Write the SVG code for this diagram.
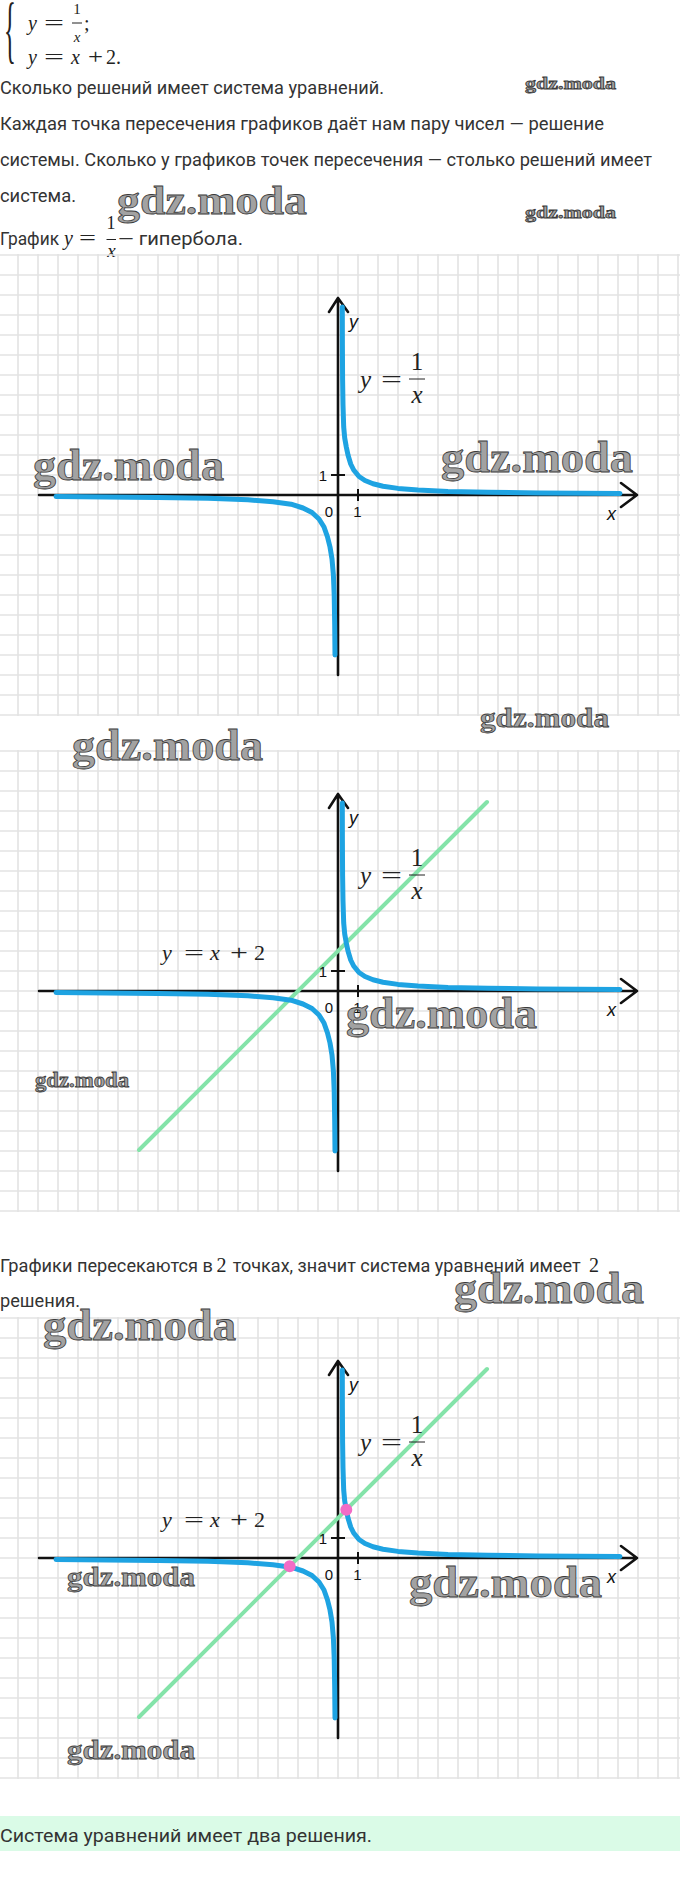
<svg xmlns="http://www.w3.org/2000/svg" width="680" height="1886" viewBox="0 0 680 1886">
<defs>
<pattern id="grid" x="-10" y="-10" width="20" height="20" patternUnits="userSpaceOnUse">
<path d="M0 10H20M10 0V20" stroke="#e3e3e3" stroke-width="1.6" fill="none"/>
</pattern>
<path id="hyp" d="M4.3 -188 L4.4 -150 L4.6 -115 L5 -90 L5.7 -68 L6.7 -57 L8.3 -48 L10 -40 L12.7 -31 L15.7 -25 L21 -18.5 L27 -14.5 L35 -11.2 L45 -8.8 L60 -6.6 L80 -5 L110 -3.6 L150 -2.7 L200 -2 L282 -1.4 M-3 160 L-3.3 130 L-3.8 100 L-4.6 80 L-6 64 L-8 52 L-10.5 42 L-14 32 L-19 24 L-26 17.5 L-35 13 L-47 9.2 L-65 6.7 L-90 4.8 L-130 3.3 L-180 2.4 L-282 1.5"/>
</defs>
<style>
.t{font-family:Roboto,"Liberation Sans",sans-serif;font-size:17.5px;fill:#333}
.m{font-family:"Liberation Serif",serif;fill:#222}
.mi{font-style:italic}
.wm{font-family:"Liberation Serif",serif;font-weight:bold;fill:#a2a2a2;stroke:#3c3c3c;stroke-width:0.8}
.ax{stroke:#111;stroke-width:2.6;fill:none;stroke-linecap:round;stroke-linejoin:round}
.tk{stroke:#111;stroke-width:2;fill:none}
.hyp{stroke:#1ea3e2;stroke-width:5;fill:none;stroke-linecap:round;stroke-linejoin:round}
.lin{stroke:#84e3a9;stroke-width:4;stroke-linecap:round}
.lbl{font-family:"Liberation Sans",Arial,sans-serif;fill:#111}
.bar{stroke:#222;stroke-width:1}
.dot{fill:#f26cc6}
</style>
<rect x="0" y="0" width="680" height="1886" fill="#fff"/>

<g id="system">
<text class="m" font-size="75" transform="translate(4,54) scale(0.33,1)">{</text>
<text class="m mi" x="28" y="30" font-size="20">y</text>
<text class="m" x="44" y="30" font-size="20" textLength="20" lengthAdjust="spacingAndGlyphs">=</text>
<text class="m" x="77" y="14" font-size="15" text-anchor="middle">1</text>
<line class="bar" x1="72" y1="23" x2="82" y2="23"/>
<text class="m mi" x="77" y="42" font-size="15" text-anchor="middle">x</text>
<text class="m" x="84" y="30" font-size="20">;</text>
<text class="m mi" x="28" y="64" font-size="20">y</text>
<text class="m" x="44" y="64" font-size="20" textLength="20" lengthAdjust="spacingAndGlyphs">=</text>
<text class="m mi" x="71" y="64" font-size="20">x</text>
<text class="m" x="88" y="64" font-size="20" textLength="15" lengthAdjust="spacingAndGlyphs">+</text>
<text class="m" x="106" y="64" font-size="20">2.</text>
</g>

<g id="intro">
<text class="t" x="0" y="94" textLength="384" lengthAdjust="spacingAndGlyphs">Сколько решений имеет система уравнений.</text>
<text class="t" x="0" y="130" textLength="604" lengthAdjust="spacingAndGlyphs">Каждая точка пересечения графиков даёт нам пару чисел — решение</text>
<text class="t" x="0" y="166" textLength="652" lengthAdjust="spacingAndGlyphs">системы. Сколько у графиков точек пересечения — столько решений имеет</text>
<text class="t" x="0" y="202" textLength="76" lengthAdjust="spacingAndGlyphs">система.</text>
<text class="t" x="0" y="245" textLength="59" lengthAdjust="spacingAndGlyphs">График</text>
<text class="m mi" x="64" y="245" font-size="20">y</text>
<text class="m" x="79" y="245" font-size="20" textLength="17" lengthAdjust="spacingAndGlyphs">=</text>
<text class="m" x="111" y="229" font-size="18" text-anchor="middle">1</text>
<line class="bar" x1="106.5" y1="239.5" x2="116" y2="239.5"/>
<text class="m mi" x="111.5" y="257" font-size="19" text-anchor="middle">x</text>
<text class="t" x="118" y="245" textLength="125" lengthAdjust="spacingAndGlyphs">— гипербола.</text>
</g>

<g id="graph1" transform="translate(338,495)">
<rect x="-338" y="-241" width="680" height="462" fill="url(#grid)"/>
<path class="ax" d="M-299 0H299M283 -12L299 0L283 12M0 180V-197M-9 -183L0 -197L10 -183"/>
<path class="tk" d="M-7 -20H7M20 -6V6"/>
<use href="#hyp" class="hyp"/>
<text class="lbl" x="-11" y="-14.5" font-size="15" text-anchor="end">1</text>
<text class="lbl" x="-9" y="22" font-size="15" text-anchor="middle">0</text>
<text class="lbl" x="19.5" y="22" font-size="15" text-anchor="middle">1</text>
<text class="lbl" x="11" y="-167" font-size="18" font-style="italic">y</text>
<text class="lbl" x="269" y="25" font-size="18" font-style="italic">x</text>
<text class="m mi" x="22" y="-107" font-size="25">y</text>
<text class="m" x="43" y="-107" font-size="25" textLength="21" lengthAdjust="spacingAndGlyphs">=</text>
<text class="m" x="79" y="-125" font-size="25" text-anchor="middle">1</text>
<line class="bar" x1="71" y1="-116" x2="87" y2="-116"/>
<text class="m mi" x="79" y="-92" font-size="25" text-anchor="middle">x</text>
</g>

<g id="graph2" transform="translate(338,991)">
<rect x="-338" y="-241" width="680" height="462" fill="url(#grid)"/>
<path class="ax" d="M-299 0H299M283 -12L299 0L283 12M0 180V-197M-9 -183L0 -197L10 -183"/>
<path class="tk" d="M-7 -20H7M20 -6V6"/>
<line class="lin" x1="-199" y1="159" x2="149" y2="-189"/>
<use href="#hyp" class="hyp"/>
<text class="lbl" x="-11" y="-14.5" font-size="15" text-anchor="end">1</text>
<text class="lbl" x="-9" y="22" font-size="15" text-anchor="middle">0</text>
<text class="lbl" x="19.5" y="22" font-size="15" text-anchor="middle">1</text>
<text class="lbl" x="11" y="-167" font-size="18" font-style="italic">y</text>
<text class="lbl" x="269" y="25" font-size="18" font-style="italic">x</text>
<text class="m mi" x="22" y="-107" font-size="25">y</text>
<text class="m" x="43" y="-107" font-size="25" textLength="21" lengthAdjust="spacingAndGlyphs">=</text>
<text class="m" x="79" y="-125" font-size="25" text-anchor="middle">1</text>
<line class="bar" x1="71" y1="-116" x2="87" y2="-116"/>
<text class="m mi" x="79" y="-92" font-size="25" text-anchor="middle">x</text>
<text class="m mi" x="-176" y="-31" font-size="22">y</text>
<text class="m" x="-154" y="-31" font-size="22" textLength="20" lengthAdjust="spacingAndGlyphs">=</text>
<text class="m mi" x="-128" y="-31" font-size="22">x</text>
<text class="m" x="-108" y="-31" font-size="22" textLength="18" lengthAdjust="spacingAndGlyphs">+</text>
<text class="m" x="-84" y="-31" font-size="22">2</text>
</g>

<g id="conclusion">
<text class="t" x="0" y="1272" textLength="213" lengthAdjust="spacingAndGlyphs">Графики пересекаются в</text>
<text class="m" x="216.5" y="1272" font-size="20">2</text>
<text class="t" x="232.7" y="1272" textLength="348" lengthAdjust="spacingAndGlyphs">точках, значит система уравнений имеет</text>
<text class="m" x="589" y="1272" font-size="20">2</text>
<text class="t" x="0" y="1307" textLength="80" lengthAdjust="spacingAndGlyphs">решения.</text>
</g>

<g id="graph3" transform="translate(338,1558)">
<rect x="-338" y="-241" width="680" height="462" fill="url(#grid)"/>
<path class="ax" d="M-299 0H299M283 -12L299 0L283 12M0 180V-197M-9 -183L0 -197L10 -183"/>
<path class="tk" d="M-7 -20H7M20 -6V6"/>
<line class="lin" x1="-199" y1="159" x2="149" y2="-189"/>
<use href="#hyp" class="hyp"/>
<circle class="dot" cx="8.3" cy="-48.3" r="6"/>
<circle class="dot" cx="-48.3" cy="8.3" r="6"/>
<text class="lbl" x="-11" y="-14.5" font-size="15" text-anchor="end">1</text>
<text class="lbl" x="-9" y="22" font-size="15" text-anchor="middle">0</text>
<text class="lbl" x="19.5" y="22" font-size="15" text-anchor="middle">1</text>
<text class="lbl" x="11" y="-167" font-size="18" font-style="italic">y</text>
<text class="lbl" x="269" y="25" font-size="18" font-style="italic">x</text>
<text class="m mi" x="22" y="-107" font-size="25">y</text>
<text class="m" x="43" y="-107" font-size="25" textLength="21" lengthAdjust="spacingAndGlyphs">=</text>
<text class="m" x="79" y="-125" font-size="25" text-anchor="middle">1</text>
<line class="bar" x1="71" y1="-116" x2="87" y2="-116"/>
<text class="m mi" x="79" y="-92" font-size="25" text-anchor="middle">x</text>
<text class="m mi" x="-176" y="-31" font-size="22">y</text>
<text class="m" x="-154" y="-31" font-size="22" textLength="20" lengthAdjust="spacingAndGlyphs">=</text>
<text class="m mi" x="-128" y="-31" font-size="22">x</text>
<text class="m" x="-108" y="-31" font-size="22" textLength="18" lengthAdjust="spacingAndGlyphs">+</text>
<text class="m" x="-84" y="-31" font-size="22">2</text>
</g>

<g id="answer">
<rect x="0" y="1816" width="680" height="35" fill="#dafbe7"/>
<text class="t" x="0" y="1842" textLength="372" lengthAdjust="spacingAndGlyphs">Система уравнений имеет два решения.</text>
</g>

<g id="watermarks">
<text class="wm" x="525" y="88.5" font-size="17" textLength="91" lengthAdjust="spacingAndGlyphs">gdz.moda</text>
<text class="wm" x="117" y="214" font-size="40" textLength="190" lengthAdjust="spacingAndGlyphs">gdz.moda</text>
<text class="wm" x="525" y="217.5" font-size="17" textLength="91" lengthAdjust="spacingAndGlyphs">gdz.moda</text>
<text class="wm" x="33" y="480" font-size="44" textLength="191" lengthAdjust="spacingAndGlyphs">gdz.moda</text>
<text class="wm" x="441" y="471.5" font-size="44" textLength="192" lengthAdjust="spacingAndGlyphs">gdz.moda</text>
<text class="wm" x="480" y="726.5" font-size="28" textLength="129" lengthAdjust="spacingAndGlyphs">gdz.moda</text>
<text class="wm" x="72" y="760" font-size="44" textLength="191" lengthAdjust="spacingAndGlyphs">gdz.moda</text>
<text class="wm" x="346" y="1027.5" font-size="44" textLength="191" lengthAdjust="spacingAndGlyphs">gdz.moda</text>
<text class="wm" x="35" y="1087" font-size="21" textLength="94" lengthAdjust="spacingAndGlyphs">gdz.moda</text>
<text class="wm" x="454" y="1302.5" font-size="44" textLength="190" lengthAdjust="spacingAndGlyphs">gdz.moda</text>
<text class="wm" x="43" y="1339.5" font-size="44" textLength="193" lengthAdjust="spacingAndGlyphs">gdz.moda</text>
<text class="wm" x="67" y="1585.5" font-size="28" textLength="128" lengthAdjust="spacingAndGlyphs">gdz.moda</text>
<text class="wm" x="409" y="1596.5" font-size="44" textLength="193" lengthAdjust="spacingAndGlyphs">gdz.moda</text>
<text class="wm" x="67" y="1759" font-size="28" textLength="128" lengthAdjust="spacingAndGlyphs">gdz.moda</text>
</g>
</svg>
